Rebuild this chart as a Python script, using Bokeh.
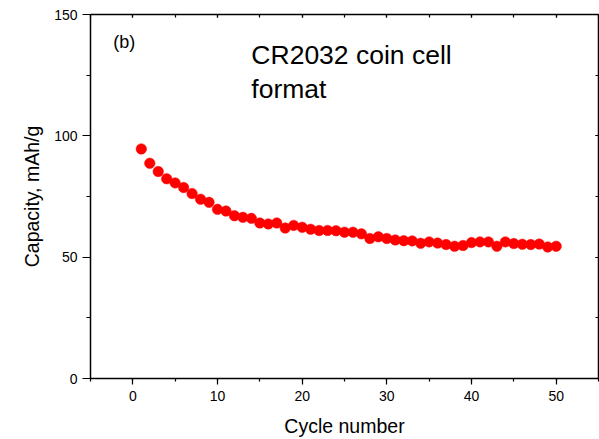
from bokeh.plotting import figure
from bokeh.models import LinearAxis, SingleIntervalTicker, Range1d, ColumnDataSource, CustomJSTickFormatter
from bokeh.core.properties import value
from bokeh.embed import file_html
from bokeh.resources import INLINE

cycles = list(range(1, 51))
capacity = [94.6, 88.7, 85.3, 82.3, 80.6, 78.7, 76.2, 73.9, 72.6, 69.7,
            69.0, 67.1, 66.4, 66.0, 64.1, 63.7, 64.1, 62.0, 63.1, 62.3,
            61.5, 61.0, 61.0, 60.9, 60.3, 60.3, 59.6, 57.7, 58.4, 57.7,
            57.1, 56.8, 56.7, 55.7, 56.3, 55.8, 55.2, 54.5, 54.8, 56.0,
            56.3, 56.3, 54.5, 56.3, 55.6, 55.3, 55.2, 55.4, 54.2, 54.5]

x_label = "Cycle number"
y_label = "Capacity, mAh/g"
panel_tag = "(b)"
note = "CR2032 coin cell\nformat"

FONT = "Liberation Sans"

p = figure(width=599, height=439, output_backend="svg", toolbar_location=None,
           x_range=Range1d(-5, 55), y_range=Range1d(0, 150),
           min_border_left=90, min_border_right=1, min_border_top=14, min_border_bottom=57,
           x_axis_location=None, y_axis_location=None)
p.outline_line_color = None
p.xgrid.visible = False
p.ygrid.visible = False

def style(ax, labels=True):
    ax.axis_line_color = "black"
    ax.axis_line_width = 1.5
    ax.major_tick_line_color = "black"
    ax.minor_tick_line_color = "black"
    ax.major_tick_line_width = 1.2
    ax.minor_tick_line_width = 1.2
    ax.major_label_text_font = FONT
    ax.major_label_text_color = "black"
    ax.major_label_text_font_size = "14px"
    ax.axis_label_text_font = FONT
    ax.axis_label_text_font_style = "normal"
    ax.axis_label_text_font_size = "19.5px"
    ax.axis_label_text_color = "black"
    if not labels:
        ax.formatter = CustomJSTickFormatter(code="return '';")
        ax.major_label_standoff = 0
        ax.major_tick_in = 3
        ax.major_tick_out = 0
        ax.minor_tick_in = 3
        ax.minor_tick_out = 0

xb = LinearAxis(ticker=SingleIntervalTicker(interval=10, num_minor_ticks=2), axis_label=x_label)
style(xb)
xb.major_tick_in = 0
xb.major_tick_out = 6
xb.minor_tick_in = 0
xb.minor_tick_out = 3
xb.major_label_standoff = 6
xb.axis_label_standoff = 11
p.add_layout(xb, "below")

yl = LinearAxis(ticker=SingleIntervalTicker(interval=50, num_minor_ticks=2), axis_label=y_label)
style(yl)
yl.major_tick_in = 0
yl.major_tick_out = 8
yl.minor_tick_in = 0
yl.minor_tick_out = 4
yl.major_label_standoff = 5
yl.axis_label_standoff = 8
p.add_layout(yl, "left")

xt = LinearAxis(ticker=SingleIntervalTicker(interval=10, num_minor_ticks=2))
style(xt, labels=False)
p.add_layout(xt, "above")

yr = LinearAxis(ticker=SingleIntervalTicker(interval=50, num_minor_ticks=2))
style(yr, labels=False)
p.add_layout(yr, "right")

src = ColumnDataSource(dict(x=cycles, y=capacity))
p.scatter("x", "y", source=src, size=10.5, fill_color="#ff0000", line_color="#ff0000", line_width=0.5)

p.text(x=[-2.3], y=[138.8], text=[panel_tag], text_font=value(FONT), text_font_size="18px",
       text_color="black", text_baseline="alphabetic", text_align="left")
p.text(x=[14.0], y=[139.3], text=[note], text_font=value(FONT), text_font_size="26.5px",
       text_color="black", text_baseline="top", text_align="left", text_line_height=1.12)

open("out.html", "w").write(file_html(p, INLINE))
